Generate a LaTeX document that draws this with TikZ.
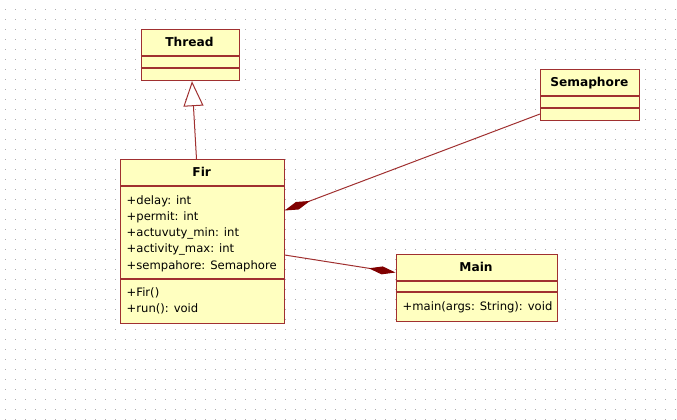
\documentclass[tikz,border=0pt]{standalone}
\usepackage{fontspec}
\setmainfont{DejaVu Sans}
\usetikzlibrary{arrows.meta,calc}
\definecolor{bdc}{RGB}{160,48,48}
\definecolor{fillc}{RGB}{255,255,192}
\definecolor{dmc}{RGB}{128,0,0}
\definecolor{dotc}{RGB}{175,175,175}
\tikzset{
  cls/.style={draw=bdc, fill=fillc, line width=1.2pt, inner sep=0pt, anchor=north west},
  sepl/.style={draw=bdc, line width=1.2pt},
  nm/.style={font=\fontsize{12.2}{14}\selectfont\bfseries, inner sep=0pt, text height=8.8pt, text depth=0pt},
  txt/.style={font=\fontsize{11.6}{14}\selectfont, inner sep=0pt, text height=8.5pt, text depth=0pt, anchor=west},
  comp/.style={draw=bdc, line width=1pt, -{Diamond[length=27pt,width=8pt,fill=dmc,color=dmc]}},
  inh/.style={draw=bdc, line width=1pt, -{Triangle[open,length=25pt,width=20pt,fill=white,color=bdc]}}
}
\begin{document}
\begin{tikzpicture}[x=1pt,y=-1pt]
\useasboundingbox (0,0) rectangle (677,420);
\fill[white] (0,0) rectangle (677,420);
\foreach \i in {0,...,67}{\foreach \j in {0,...,41}{\fill[dotc] ({5+10*\i},{9+10*\j}) rectangle ++(1.3,1.3);}}
% Thread
\node[cls, minimum width=98pt, minimum height=51pt] (thread) at (140.5,29) {};
\draw[sepl] (thread.west |- 0,56) -- (thread.east |- 0,56);
\draw[sepl] (thread.west |- 0,68) -- (thread.east |- 0,68);
\node[nm] (threadname) at (189.5,42.5) {Thread};
% Semaphore
\node[cls, minimum width=98.5pt, minimum height=51pt] (sema) at (540,69) {};
\draw[sepl] (sema.west |- 0,96) -- (sema.east |- 0,96);
\draw[sepl] (sema.west |- 0,108) -- (sema.east |- 0,108);
\node[nm] (semaname) at (589.3,82.5) {Semaphore};
% Fir
\node[cls, minimum width=163.5pt, minimum height=164pt] (fir) at (120,159) {};
\draw[sepl] (fir.west |- 0,186) -- (fir.east |- 0,186);
\draw[sepl] (fir.west |- 0,279) -- (fir.east |- 0,279);
\node[nm] (firname) at (201.7,172.5) {Fir};
\node[txt] (a1) at (126.5,200) {+delay: int};
\node[txt] (a2) at (126.5,216.2) {+permit: int};
\node[txt] (a3) at (126.5,232.4) {+actuvuty\_min: int};
\node[txt] (a4) at (126.5,248.6) {+activity\_max: int};
\node[txt] (a5) at (126.5,264.8) {+sempahore: Semaphore};
\node[txt] (o1) at (126.5,292.5) {+Fir()};
\node[txt] (o2) at (126.5,308.2) {+run(): void};
% Main
\node[cls, minimum width=161pt, minimum height=67pt] (main) at (395.5,254) {};
\draw[sepl] (main.west |- 0,281) -- (main.east |- 0,281);
\draw[sepl] (main.west |- 0,292) -- (main.east |- 0,292);
\node[nm] (mainname) at (476,267.5) {Main};
\node[txt] (m1) at (402.5,306.7) {+main(args: String): void};
% connectors
\draw[inh] (196.5,0 |- fir.north) -- (192,0 |- thread.south);
\draw[comp] (sema.west |- 0,114) -- (fir.east |- 0,210.5);
\draw[comp] (fir.east |- 0,255) -- (main.west |- 0,272.5);
\end{tikzpicture}
\end{document}
